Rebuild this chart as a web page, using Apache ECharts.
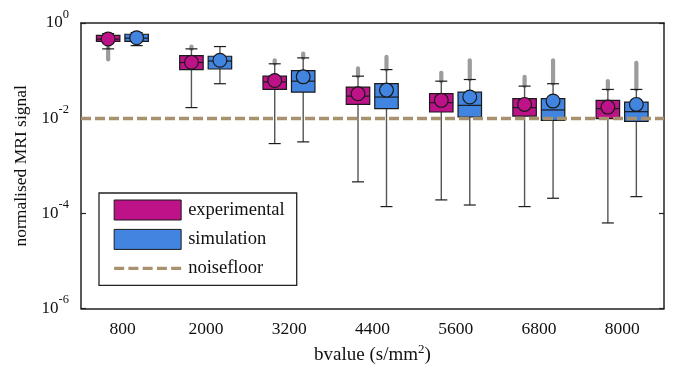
<!DOCTYPE html>
<html>
<head>
<meta charset="utf-8">
<script src="https://cdn.jsdelivr.net/npm/echarts@6/dist/echarts.min.js"></script>
<style>
  html, body { margin: 0; padding: 0; background: #fff; }
  #chart { width: 675px; height: 370px; }
</style>
</head>
<body>
<div id="chart"></div>
<script>
// ---- data ----
const categories = ['800', '2000', '3200', '4400', '5600', '6800', '8000'];

// experimental
const expLow     = [0.286, 0.0167, 0.00293, 4.6e-4, 1.92e-4, 1.39e-4, 6.3e-5];
const expQ1      = [0.41, 0.105, 0.0402, 0.0195, 0.0135, 0.0111, 0.0098];
const expMedian  = [0.46, 0.148, 0.0578, 0.0291, 0.0212, 0.0167, 0.0159];
const expQ3      = [0.55, 0.207, 0.0764, 0.045, 0.0327, 0.0257, 0.0237];
const expHigh    = [0.6, 0.286, 0.139, 0.0764, 0.06, 0.0472, 0.0402];
const expMean    = [0.46, 0.15, 0.062, 0.0327, 0.0237, 0.0195, 0.0171];
const expOutMax  = [null, 0.32, 0.165, 0.111, 0.09, 0.074, 0.06];
const expOutMin  = [0.171, null, null, null, null, null, null];

// simulation
const simLow     = [0.335, 0.053, 0.00318, 1.39e-4, 1.5e-4, 2.08e-4, 2.25e-4];
const simQ1      = [0.41, 0.108, 0.0353, 0.0159, 0.0106, 0.00904, 0.0086];
const simMedian  = [0.48, 0.159, 0.06, 0.0278, 0.0186, 0.0149, 0.0137];
const simQ3      = [0.58, 0.20, 0.1, 0.053, 0.0353, 0.0257, 0.0218];
const simHigh    = [0.63, 0.32, 0.185, 0.105, 0.065, 0.053, 0.0402];
const simMean    = [0.49, 0.165, 0.074, 0.0389, 0.0278, 0.0229, 0.0195];
const simOutMax  = [null, null, 0.228, 0.194, 0.165, 0.165, 0.146];
const simOutMin  = [null, null, null, null, null, null, null];

const noiseFloor = 0.00833;

// ---- styles ----
const FONT = '"Liberation Serif", "DejaVu Serif", serif';
const EXP_COLOR = '#BE1289';
const SIM_COLOR = '#4285E0';
const NOISE_COLOR = '#A8916E';
const AXIS_COLOR = '#222';

function buildData(low, q1, med, q3, high, mean, outMax, outMin) {
  return categories.map((c, i) => [
    i, low[i], q1[i], med[i], q3[i], high[i], mean[i],
    outMax[i] == null ? '-' : outMax[i],
    outMin[i] == null ? '-' : outMin[i]
  ]);
}

function makeRender(offsetFrac, color) {
  return function (params, api) {
    const i = api.value(0);
    const ref = api.value(3);
    const x0 = api.coord([i, ref])[0];
    const band = api.coord([1, ref])[0] - api.coord([0, ref])[0];
    const cx = x0 + band * offsetFrac;
    const py = (k) => api.coord([i, api.value(k)])[1];
    const low = py(1), q1 = py(2), med = py(3), q3 = py(4), high = py(5), mean = py(6);
    const bw = band * 0.282;
    const cap = 6;
    const r = 6.9;
    const children = [];
    const oMax = api.value(7), oMin = api.value(8);
    if (isFinite(oMax) && oMax > 0) {
      children.push({ type: 'line', shape: { x1: cx, y1: high, x2: cx, y2: py(7) },
        style: { stroke: '#9c9c9c', lineWidth: 4.2, lineCap: 'round' } });
    }
    if (isFinite(oMin) && oMin > 0) {
      children.push({ type: 'line', shape: { x1: cx, y1: q1, x2: cx, y2: py(8) },
        style: { stroke: '#9c9c9c', lineWidth: 4.2, lineCap: 'round' } });
    }
    // whisker
    children.push({ type: 'line', shape: { x1: cx, y1: low, x2: cx, y2: high },
      style: { stroke: '#555', lineWidth: 1.4 } });
    children.push({ type: 'line', shape: { x1: cx - cap, y1: low, x2: cx + cap, y2: low },
      style: { stroke: '#1a1a1a', lineWidth: 1.2 } });
    children.push({ type: 'line', shape: { x1: cx - cap, y1: high, x2: cx + cap, y2: high },
      style: { stroke: '#1a1a1a', lineWidth: 1.2 } });
    // box
    children.push({ type: 'rect', shape: { x: cx - bw / 2, y: q3, width: bw, height: q1 - q3 },
      style: { fill: color, stroke: '#1a1a1a', lineWidth: 1.2 } });
    // median
    children.push({ type: 'line', shape: { x1: cx - bw / 2, y1: med, x2: cx + bw / 2, y2: med },
      style: { stroke: '#1a1a1a', lineWidth: 1.2 } });
    // mean marker
    children.push({ type: 'circle', shape: { cx: cx, cy: mean, r: r },
      style: { fill: color, stroke: '#1a1a1a', lineWidth: 1.2 } });
    return { type: 'group', children: children };
  };
}

const yLabelRich = {
  b: { fontSize: 17, fontFamily: FONT, color: '#111', lineHeight: 30 },
  s: { fontSize: 12.5, fontFamily: FONT, color: '#111', lineHeight: 8, verticalAlign: 'top' }
};
function yLabel(v) {
  const e = Math.round(Math.log10(v));
  return '{b|10}{s|' + e + '}';
}

const chart = echarts.init(document.getElementById('chart'), null, { renderer: 'canvas' });

const option = {
  animation: false,
  backgroundColor: '#fff',
  grid: { left: 81, right: 11, top: 23, bottom: 60 },
  legend: {
    orient: 'vertical',
    left: 99, top: 193,
    padding: [6.5, 12, 7, 13.5],
    itemGap: 8.4,
    itemWidth: 67,
    itemHeight: 20,
    borderColor: AXIS_COLOR,
    borderWidth: 1.3,
    backgroundColor: '#fff',
    textStyle: { fontSize: 18.5, fontFamily: FONT, color: '#111', lineHeight: 20, padding: [0, 0, 0, 2] },
    data: [
      { name: 'experimental', icon: 'rect', itemStyle: { color: EXP_COLOR, borderColor: '#1a1a1a', borderWidth: 1 } },
      { name: 'simulation', icon: 'rect', itemStyle: { color: SIM_COLOR, borderColor: '#1a1a1a', borderWidth: 1 } },
      { name: 'noisefloor', itemStyle: { opacity: 0 },
        lineStyle: { color: NOISE_COLOR, width: 3.3, type: [10, 4.25] } }
    ]
  },
  xAxis: [
    {
      type: 'category', data: categories, position: 'bottom',
      axisLine: { lineStyle: { color: AXIS_COLOR, width: 1.5 } },
      axisTick: { inside: true, alignWithLabel: true, length: 5, lineStyle: { color: AXIS_COLOR, width: 1.2 } },
      axisLabel: { fontSize: 17.5, fontFamily: FONT, color: '#111', margin: 12 },
      name: '{a|bvalue (s/mm}{s|2}{a|)}',
      nameLocation: 'middle',
      nameGap: 34,
      nameTextStyle: {
        rich: {
          a: { fontSize: 19, fontFamily: FONT, color: '#111', lineHeight: 24 },
          s: { fontSize: 13, fontFamily: FONT, color: '#111', lineHeight: 10, verticalAlign: 'top' }
        }
      }
    },
    {
      type: 'category', data: categories, position: 'top',
      axisLine: { lineStyle: { color: AXIS_COLOR, width: 1.5 } },
      axisTick: { inside: true, alignWithLabel: true, length: 5, lineStyle: { color: AXIS_COLOR, width: 1.2 } },
      axisLabel: { show: false }
    }
  ],
  yAxis: [
    {
      type: 'log', logBase: 10, min: 1e-6, max: 1, interval: 2, splitNumber: 3,
      position: 'left',
      axisLine: { show: true, lineStyle: { color: AXIS_COLOR, width: 1.5 } },
      axisTick: { show: true, inside: true, length: 5, lineStyle: { color: AXIS_COLOR, width: 1.2 } },
      splitLine: { show: false },
      axisLabel: { formatter: yLabel, rich: yLabelRich, margin: 12 },
      name: 'normalised MRI signal',
      nameLocation: 'middle',
      nameGap: 51,
      nameTextStyle: { fontSize: 17.5, fontFamily: FONT, color: '#111' }
    },
    {
      type: 'log', logBase: 10, min: 1e-6, max: 1, interval: 2, splitNumber: 3,
      position: 'right',
      axisLine: { show: true, lineStyle: { color: AXIS_COLOR, width: 1.5 } },
      axisTick: { show: true, inside: true, length: 5, lineStyle: { color: AXIS_COLOR, width: 1.2 } },
      splitLine: { show: false },
      axisLabel: { show: false }
    }
  ],
  series: [
    {
      name: 'experimental', type: 'custom', xAxisIndex: 0, yAxisIndex: 0,
      itemStyle: { color: EXP_COLOR },
      encode: { x: 0, y: [1, 2, 3, 4, 5, 6, 7, 8] },
      renderItem: makeRender(-0.174, EXP_COLOR),
      data: buildData(expLow, expQ1, expMedian, expQ3, expHigh, expMean, expOutMax, expOutMin),
      z: 3
    },
    {
      name: 'simulation', type: 'custom', xAxisIndex: 0, yAxisIndex: 0,
      itemStyle: { color: SIM_COLOR },
      encode: { x: 0, y: [1, 2, 3, 4, 5, 6, 7, 8] },
      renderItem: makeRender(0.168, SIM_COLOR),
      data: buildData(simLow, simQ1, simMedian, simQ3, simHigh, simMean, simOutMax, simOutMin),
      z: 3
    },
    {
      name: 'noisefloor', type: 'line', xAxisIndex: 0, yAxisIndex: 0,
      data: [],
      symbol: 'none',
      itemStyle: { color: NOISE_COLOR },
      lineStyle: { color: NOISE_COLOR, width: 3.3, type: [10, 4] },
      markLine: {
        silent: true,
        symbol: 'none',
        label: { show: false },
        lineStyle: { color: NOISE_COLOR, width: 3.3, type: [10, 4] },
        data: [{ yAxis: noiseFloor }],
        z: 4
      },
      z: 4
    }
  ]
};

chart.setOption(option);
</script>
</body>
</html>
